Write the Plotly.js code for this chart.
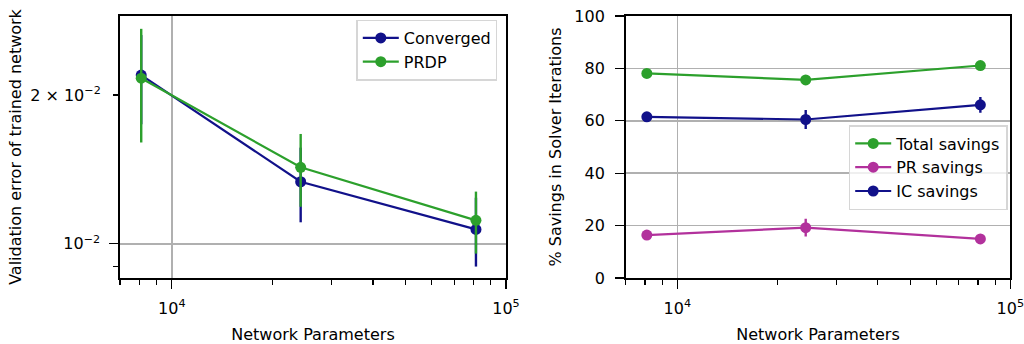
<!DOCTYPE html>
<html>
<head>
<meta charset="utf-8">
<script src="https://cdn.plot.ly/plotly-3.0.1.min.js"></script>
<style>html,body{margin:0;padding:0;background:#fff;}#chart{width:1024px;height:344px;}</style>
</head>
<body>
<div id="chart"></div>
<script>
// ---- data ----
const params = [8100, 24300, 81300];

const convergedErr = [0.02195, 0.01335, 0.01069];
const convergedErrSd = [0.0045, 0.0023, 0.0017];
const prdpErr = [0.02163, 0.01428, 0.01115];
const prdpErrSd = [0.0056, 0.0024, 0.0016];

const totalSavings = [78.1, 75.6, 81.1];
const totalSavingsSd = [0.5, 0.6, 0.7];
const prSavings = [16.4, 19.2, 14.9];
const prSavingsSd = [0.6, 3.4, 0.7];
const icSavings = [61.5, 60.5, 66.1];
const icSavingsSd = [0.6, 3.6, 3.0];

const xTickVals = [1e4, 1e5];
const xTickText = ['10<sup>4</sup>', '10<sup>5</sup>'];
const xMinorVals = [7000, 8000, 9000, 20000, 30000, 40000, 50000, 60000, 70000, 80000, 90000];
const yLeftMajorVals = [0.01];
const yLeftMajorText = ['10<sup>\u22122</sup>'];
const yLeftLabeledMinorVals = [0.02];
const yLeftLabeledMinorText = ['2 \u00d7 10<sup>\u22122</sup>'];
const yLeftMinorVals = [0.009, 0.02];
const yRightTicks = [0, 20, 40, 60, 80, 100];

// ---- style ----
const GREEN = '#2ca02c', NAVY = '#11118a', PURPLE = '#b2319c';
const FONT = {family: 'DejaVu Sans', size: 16, color: '#000'};
const GRID = '#b0b0b0';

function series(name, x, y, e, color, xa, ya, legend) {
  return {
    type: 'scatter', mode: 'lines+markers', name: name, x: x, y: y,
    xaxis: xa, yaxis: ya, legend: legend,
    line: {color: color, width: 2.2},
    marker: {color: color, size: 11},
    error_y: {type: 'data', array: e, visible: true, color: color, thickness: 2.4, width: 0}
  };
}

const traces = [
  series('Converged', params, convergedErr, convergedErrSd, NAVY, 'x', 'y', 'legend'),
  series('PRDP', params, prdpErr, prdpErrSd, GREEN, 'x', 'y', 'legend'),
  series('Total savings', params, totalSavings, totalSavingsSd, GREEN, 'x2', 'y2', 'legend2'),
  series('PR savings', params, prSavings, prSavingsSd, PURPLE, 'x2', 'y2', 'legend2'),
  series('IC savings', params, icSavings, icSavingsSd, NAVY, 'x2', 'y2', 'legend2'),
  {type: 'scatter', x: [null], y: [null], xaxis: 'x', yaxis: 'y3', showlegend: false, hoverinfo: 'skip'}
];

const xCommon = {
  type: 'log', range: [3.845, 5], tickvals: xTickVals, ticktext: xTickText,
  ticks: 'outside', ticklen: 9, tickwidth: 1.3, tickcolor: '#000',
  showline: true, linecolor: '#000', linewidth: 1.6, mirror: true,
  showgrid: true, gridcolor: GRID, gridwidth: 1.6, zeroline: false,
  minor: {tickvals: xMinorVals, ticks: 'outside', ticklen: 5, tickwidth: 1.1, tickcolor: '#000', showgrid: false},
  tickfont: FONT, ticklabelstandoff: 6, ticklabeloverflow: 'allow',
  title: {text: 'Network Parameters', font: FONT, standoff: 20}, automargin: false
};

const legendCommon = {
  xanchor: 'right', yanchor: 'top',
  bgcolor: 'rgba(255,255,255,0.8)', bordercolor: '#d6d6d6', borderwidth: 1.5,
  font: FONT, tracegroupgap: 0, itemwidth: 36
};

const layout = {
  width: 1024, height: 344,
  margin: {l: 0, r: 0, t: 0, b: 0},
  paper_bgcolor: '#fff', plot_bgcolor: '#fff',
  font: FONT,
  showlegend: true,
  xaxis: Object.assign({}, xCommon, {domain: [120 / 1024, 506 / 1024], anchor: 'y'}),
  xaxis2: Object.assign({}, xCommon, {domain: [625.7 / 1024, 1010.3 / 1024], anchor: 'y2'}),
  yaxis: {
    type: 'log', range: [-2.0694, -1.539], domain: [1 - 278 / 344, 1 - 16 / 344], anchor: 'x',
    tickvals: yLeftMajorVals, ticktext: yLeftMajorText,
    ticks: 'outside', ticklen: 9, tickwidth: 1.3, tickcolor: '#000',
    showline: true, linecolor: '#000', linewidth: 1.6, mirror: true,
    showgrid: true, gridcolor: GRID, gridwidth: 1.6, zeroline: false,
    minor: {tickvals: yLeftMinorVals, ticks: 'outside', ticklen: 5, tickwidth: 1.1, tickcolor: '#000', showgrid: false},
    tickfont: FONT, ticklabelstandoff: 6,
    title: {text: 'Validation error of trained network', font: FONT, standoff: 38}, automargin: false
  },
  yaxis3: {
    type: 'log', range: [-2.0694, -1.539], overlaying: 'y', anchor: 'x', side: 'left',
    tickvals: yLeftLabeledMinorVals, ticktext: yLeftLabeledMinorText,
    ticks: 'outside', ticklen: 5, tickwidth: 1.1, tickcolor: '#000',
    showline: false, showgrid: false, zeroline: false, tickfont: FONT, ticklabelstandoff: 10, automargin: false
  },
  yaxis2: {
    range: [0, 100], domain: [1 - 278 / 344, 1 - 16 / 344], anchor: 'x2',
    tickvals: yRightTicks,
    ticks: 'outside', ticklen: 9, tickwidth: 1.3, tickcolor: '#000',
    showline: true, linecolor: '#000', linewidth: 1.6, mirror: true,
    showgrid: true, gridcolor: GRID, gridwidth: 1.6, zeroline: false,
    tickfont: FONT, ticklabelstandoff: 7,
    title: {text: '% Savings in Solver Iterations', font: FONT, standoff: 9}, automargin: false
  },
  legend: Object.assign({}, legendCommon, {x: 497.3 / 1024, y: 1 - 19.5 / 344}),
  legend2: Object.assign({}, legendCommon, {x: 1007.7 / 1024, y: 1 - 125 / 344})
};

Plotly.newPlot('chart', traces, layout, {staticPlot: true, displayModeBar: false});
</script>
</body>
</html>
